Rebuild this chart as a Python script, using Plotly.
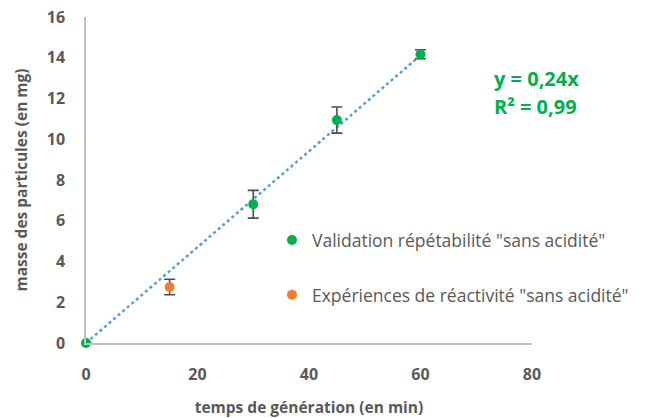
import plotly.graph_objects as go
import numpy as np

# Data
valid_x = [0, 30, 45, 60]
valid_y = [0, 6.81, 10.94, 14.17]
valid_err = [0, 0.68, 0.64, 0.22]

react_x = [15]
react_y = [2.75]
react_err = [0.38]

x_ticks = [0, 20, 40, 60, 80]
y_ticks = [0, 2, 4, 6, 8, 10, 12, 14, 16]

# Linear fit through origin on all points
ax_ = np.array(valid_x + react_x, dtype=float)
ay_ = np.array(valid_y + react_y, dtype=float)
slope = float((ax_ * ay_).sum() / (ax_ * ax_).sum())
r2 = float(1 - ((ay_ - slope * ax_) ** 2).sum() / ((ay_ - ay_.mean()) ** 2).sum())
trend_x = [0, float(ax_.max())]
trend_y = [slope * t for t in trend_x]

FONT = "Open Sans"
GRAY = "#595959"
GREEN = "#00B050"
ORANGE = "#ED7D31"
BLUE = "#5B9BD5"
ERR = "#4D4D4D"

W, H = 651, 418
L, R, T, B = 86, 119, 17, 75
PW, PH = W - L - R, H - T - B

fig = go.Figure()

fig.add_trace(go.Scatter(
    x=trend_x, y=trend_y, mode="lines",
    line=dict(color=BLUE, width=2.5, dash="dot"),
    showlegend=False, hoverinfo="skip", cliponaxis=False,
))

fig.add_trace(go.Scatter(
    x=valid_x, y=valid_y, mode="markers",
    name='Validation répétabilité "sans acidité"',
    legendgroup="a",
    marker=dict(color=GREEN, size=10),
    error_y=dict(type="data", array=valid_err, visible=True,
                 color=ERR, thickness=1.6, width=5.5),
    cliponaxis=False,
))

fig.add_trace(go.Scatter(
    x=react_x, y=react_y, mode="markers",
    name='Expériences de réactivité "sans acidité"',
    legendgroup="b",
    marker=dict(color=ORANGE, size=10),
    error_y=dict(type="data", array=react_err, visible=True,
                 color=ERR, thickness=1.6, width=5.5),
    cliponaxis=False,
))

ann_font = dict(family=FONT, size=20, color=GREEN, weight="bold")
fig.add_annotation(
    x=(492 - L) / PW, y=1 - (78 - T) / PH, xref="x domain", yref="y domain",
    showarrow=False, text=f"y = {slope:.2f}x".replace(".", ","), font=ann_font,
    xanchor="left", yanchor="middle",
)
fig.add_annotation(
    x=(492 - L) / PW, y=1 - (107 - T) / PH, xref="x domain", yref="y domain",
    showarrow=False, text="R² = " + f"{r2:.2f}".replace(".", ","), font=ann_font,
    xanchor="left", yanchor="middle",
)

fig.update_layout(
    width=W, height=H,
    margin=dict(l=L, r=R, t=T, b=B),
    paper_bgcolor="white", plot_bgcolor="white",
    font=dict(family=FONT, color=GRAY, size=16),
    legend=dict(
        x=0.417, y=0.371, xanchor="left", yanchor="top",
        traceorder="grouped", tracegroupgap=29,
        font=dict(family=FONT, size=17.5, color=GRAY),
        itemwidth=30, bgcolor="rgba(0,0,0,0)",
    ),
    xaxis=dict(
        range=[0, 80], tickvals=x_ticks, showgrid=False, zeroline=False,
        showline=True, linecolor="#BFBFBF", linewidth=1.5,
        ticks="", ticklabelstandoff=16, automargin=False,
        ticklabeloverflow="allow",
        tickfont=dict(family=FONT, size=16, color=GRAY, weight="bold"),
        title=dict(text="temps de génération (en min)",
                   font=dict(family=FONT, size=15.5, color=GRAY, weight="bold"),
                   standoff=21),
    ),
    yaxis=dict(
        range=[0, 16], tickvals=y_ticks, showgrid=False, zeroline=False,
        showline=True, linecolor="#BFBFBF", linewidth=1.5,
        ticks="", ticklabelstandoff=16, automargin=False,
        ticklabeloverflow="allow",
        tickfont=dict(family=FONT, size=16, color=GRAY, weight="bold"),
        title=dict(text="masse des particules (en mg)",
                   font=dict(family=FONT, size=15.5, color=GRAY, weight="bold"),
                   standoff=15),
    ),
)

# remove the default page margin so the figure fills the window exactly
fig.write_html(
    "out.html",
    config={"displayModeBar": False},
    post_script="document.body.style.margin='0';document.body.style.overflow='hidden';",
)
